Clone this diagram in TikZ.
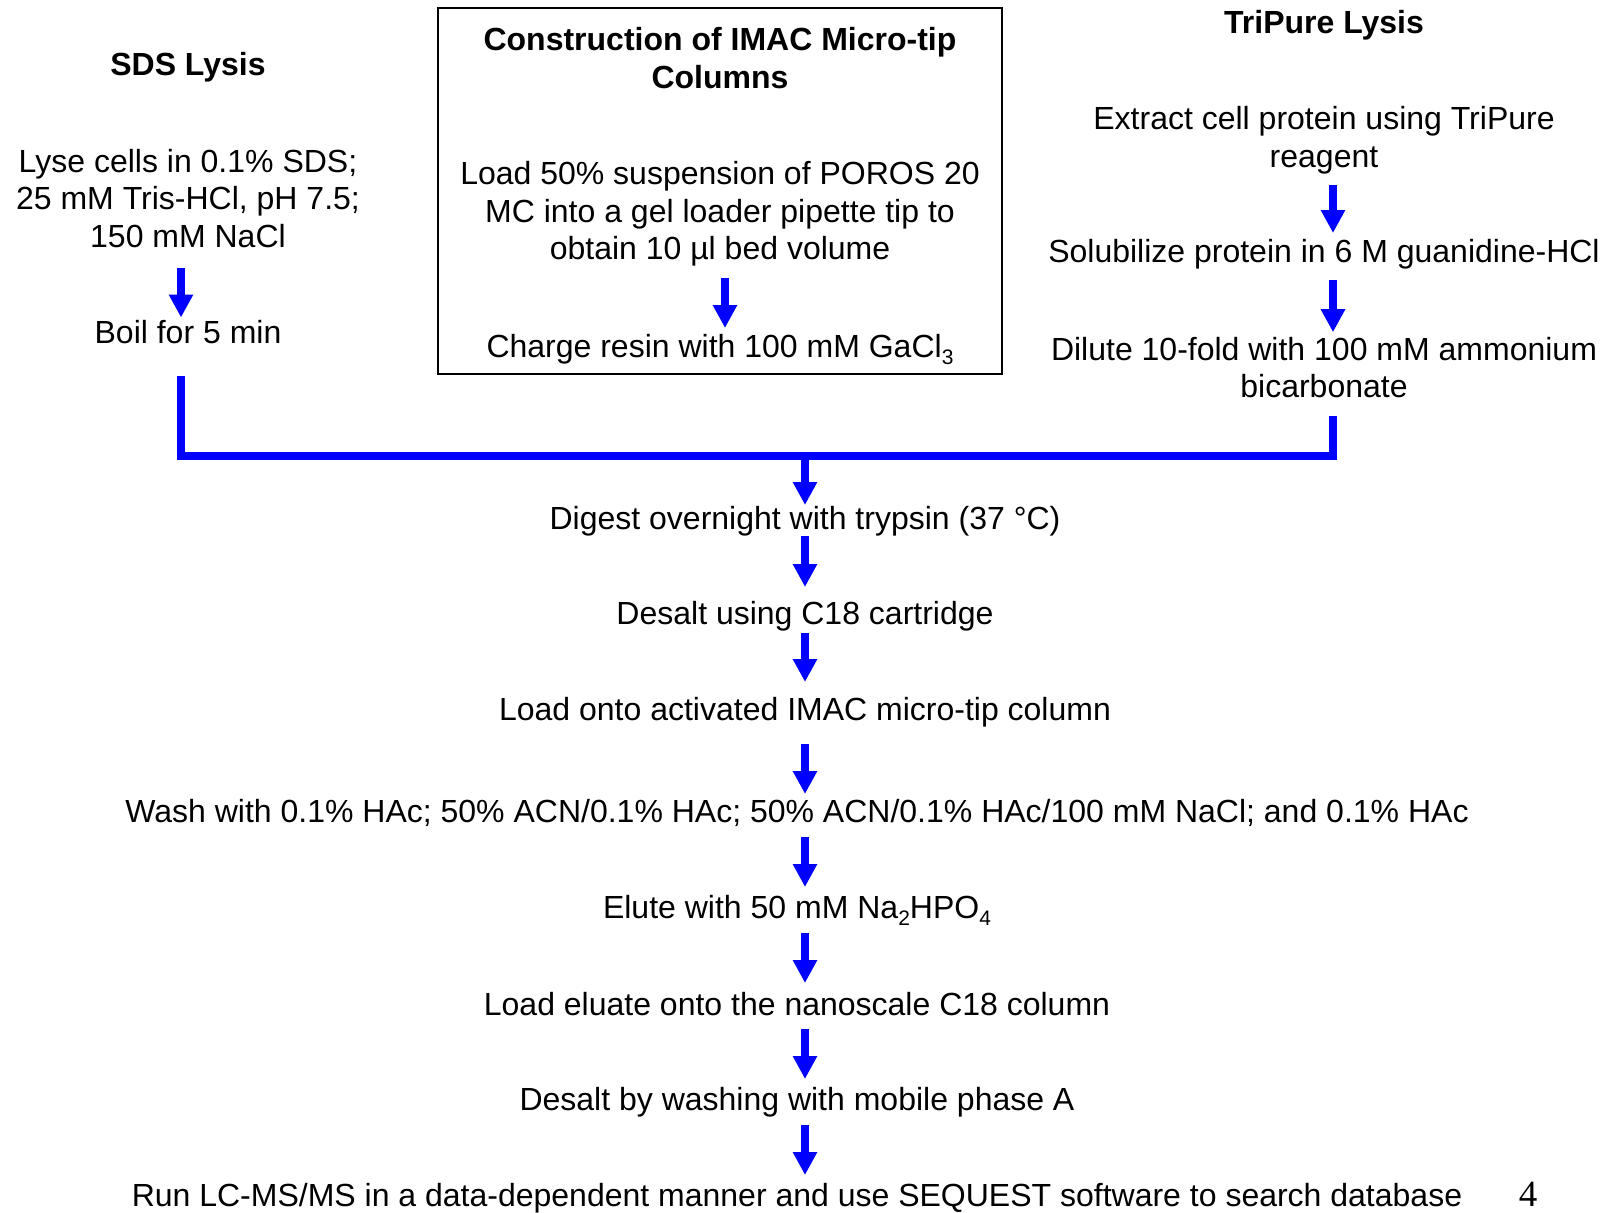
\documentclass[tikz,border=0pt]{standalone}
\usepackage{fontspec}
\setmainfont{Liberation Sans}
\newfontfamily\pagenumfont{Liberation Serif}
\usetikzlibrary{arrows.meta}
\definecolor{flowblue}{RGB}{0,0,255}
\newcommand\subtxt[1]{\raisebox{-7pt}{\fontsize{21}{21}\selectfont #1}}
\begin{document}
\begin{tikzpicture}[x=1pt,y=-1pt,
  txt/.style={inner sep=0pt, outer sep=0pt, font=\fontsize{32}{37.5}\selectfont},
  multi/.style={txt, align=center},
  one/.style={txt, anchor=base, text height=23.3pt, text depth=6.7pt},
  hd/.style={one, font=\fontsize{32}{37.5}\selectfont\bfseries},
  flow/.style={draw=flowblue, line width=8pt, -{Triangle[width=23pt,length=23pt]}},
  link/.style={draw=flowblue, line width=8pt}]
\useasboundingbox (0,0) rectangle (1612,1213);
\coordinate (cL) at (181,0);
\coordinate (cB) at (725,0);
\coordinate (cR) at (1333,0);
\coordinate (merge) at (805,456);

% left column
\node[hd] (sdshead) at (188,75) {SDS Lysis};
\node[multi] (lyse) at (188,198.1) {Lyse cells in 0.1\% SDS;\\25 mM Tris-HCl, pH 7.5;\\150 mM NaCl};
\node[one] (boil) at (188,343) {Boil for 5 min};

% IMAC box
\node[draw, line width=2pt, minimum width=564pt, minimum height=366pt, inner sep=0pt] (imacbox) at (720,191) {};
\node[multi, font=\fontsize{32}{37.5}\selectfont\bfseries] (imachead) at (720,58) {Construction of IMAC Micro-tip\\Columns};
\node[multi] (load50) at (720,214) {Load 50\% suspension of POROS 20\\MC into a gel loader pipette tip to\\obtain 10 µl bed volume};
\node[one] (charge) at (720,357) {Charge resin with 100 mM GaCl\subtxt{3}};

% right column
\node[hd] (trihead) at (1324,33) {TriPure Lysis};
\node[multi] (extract) at (1324,140) {Extract cell protein using TriPure\\reagent};
\node[one] (solub) at (1324,262) {Solubilize protein in 6 M guanidine-HCl};
\node[multi] (dilute) at (1324,367.4) {Dilute 10-fold with 100 mM ammonium\\bicarbonate};

% centre chain
\node[one] (digest) at (805,529) {Digest overnight with trypsin (37 °C)};
\node[one] (c18) at (805,624) {Desalt using C18 cartridge};
\node[one] (loadonto) at (805,720) {Load onto activated IMAC micro-tip column};
\node[one] (wash) at (797,822) {Wash with 0.1\% HAc; 50\% ACN/0.1\% HAc; 50\% ACN/0.1\% HAc/100 mM NaCl; and 0.1\% HAc};
\node[one] (elute) at (797,918) {Elute with 50 mM Na\subtxt{2}HPO\subtxt{4}};
\node[one] (eluate) at (797,1015) {Load eluate onto the nanoscale C18 column};
\node[one] (desalt) at (797,1110) {Desalt by washing with mobile phase A};
\node[one] (run) at (797,1206) {Run LC-MS/MS in a data-dependent manner and use SEQUEST software to search database};
\node[one, font=\fontsize{37}{40}\pagenumfont] (pagenum) at (1528,1206) {4};

% connectors
\draw[flow, shorten <=20.5pt, shorten >=2.2pt] (lyse.south -| cL) -- (boil.north -| cL);
\draw[flow, shorten <=11.3pt, shorten >=5.7pt] (load50.south -| cB) -- (charge.north -| cB);
\draw[flow, shorten <=11.3pt, shorten >=5.7pt] (extract.south -| cR) -- (solub.north -| cR);
\draw[flow, shorten <=11.3pt, shorten >=4.7pt] (solub.south -| cR) -- (dilute.north -| cR);
\draw[link, shorten <=26.3pt] (boil.south -| cL) |- (merge);
\draw[link, shorten <=18.2pt] (dilute.south -| cR) |- (merge);
\draw[flow, shorten >=0.7pt] (merge) -- (digest.north -| merge);
\draw[flow, shorten <=0.3pt, shorten >=13.7pt] (digest.south -| merge) -- (c18.north -| merge);
\draw[flow, shorten <=2.3pt, shorten >=14.7pt] (c18.south -| merge) -- (loadonto.north -| merge);
\draw[flow, shorten <=17.3pt, shorten >=4.7pt] (loadonto.south -| merge) -- (wash.north -| merge);
\draw[flow, shorten <=8.3pt, shorten >=7.7pt] (wash.south -| merge) -- (elute.north -| merge);
\draw[flow, shorten <=8.3pt, shorten >=8.7pt] (elute.south -| merge) -- (eluate.north -| merge);
\draw[flow, shorten <=7.3pt, shorten >=7.7pt] (eluate.south -| merge) -- (desalt.north -| merge);
\draw[flow, shorten <=8.3pt, shorten >=7.7pt] (desalt.south -| merge) -- (run.north -| merge);
\end{tikzpicture}
\end{document}
